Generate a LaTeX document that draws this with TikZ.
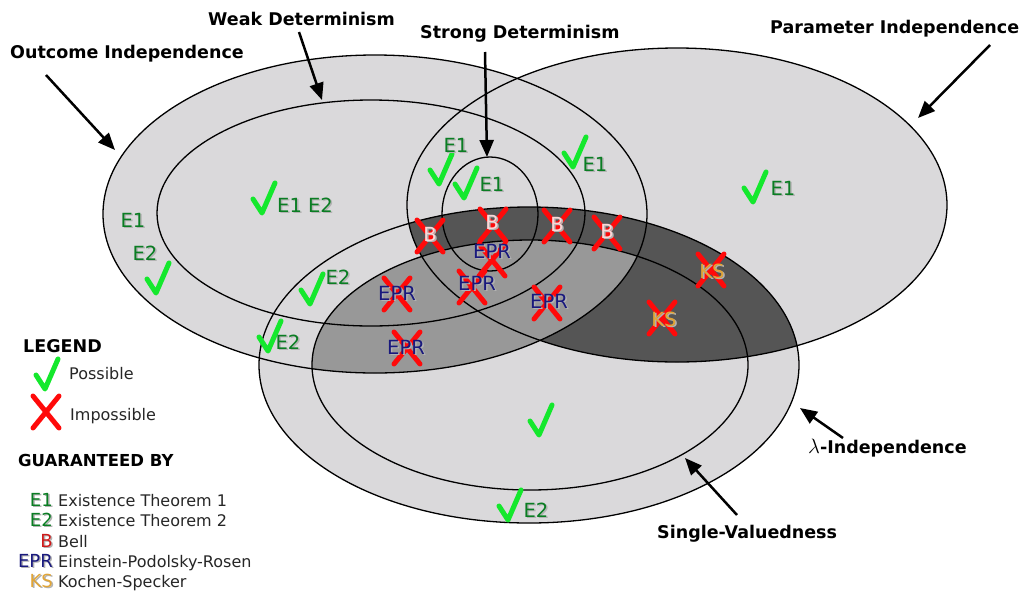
\documentclass[tikz,border=0pt]{standalone}
\usepackage{fontspec}
\setmainfont{DejaVu Sans}
\usetikzlibrary{arrows.meta}

\definecolor{lightfill}{RGB}{218,217,219}
\definecolor{midfill}{RGB}{152,152,152}
\definecolor{darkfill}{RGB}{85,85,85}
\definecolor{okgreen}{RGB}{20,232,45}
\definecolor{egreen}{RGB}{10,125,35}
\definecolor{nored}{RGB}{255,10,10}
\definecolor{bellred}{RGB}{205,25,25}
\definecolor{bellpink}{RGB}{250,215,215}
\definecolor{eprblue}{RGB}{25,25,125}
\definecolor{ksgold}{RGB}{225,165,55}

\newcommand\withshadow[1]{\makebox[0pt][l]{\raisebox{-1.5pt}{\kern1.5pt\textcolor{black!30}{#1}}}#1}

\tikzset{
    pics/okpic/.style={code={\draw[okgreen, line width=5pt, line cap=round, line join=round]
        (-11,1) -- (-2,15) -- (11,-15);}},
    pics/nopic/.style={code={\draw[nored, line width=5pt, line cap=round]
        (-13,-16) -- (13,16) (13,-16) -- (-13,16);}},
}

\begin{document}
\begin{tikzpicture}[x=1pt, y=-1pt,
    boundary/.style={draw, line width=1.3pt},
    pointer/.style={line width=2.5pt, -{Triangle[length=17pt,width=14pt]}},
    caption/.style={font=\bfseries\fontsize{17.5}{20}\selectfont, inner sep=0pt, anchor=base west},
    lbl/.style={font=\fontsize{19.5}{19.5}\selectfont, inner sep=0pt},
    thm/.style={lbl, text=egreen},
    bell/.style={lbl, text=bellpink},
    epr/.style={lbl, text=eprblue},
    ks/.style={lbl, text=ksgold},
    key/.style={font=\fontsize{18}{18}\selectfont, inner sep=0pt, anchor=base east},
    legtext/.style={font=\fontsize{16}{16}\selectfont, inner sep=0pt, anchor=base west, text=black!85}]

    \useasboundingbox (0,0) rectangle (1023,595);

    % regions
    \fill[lightfill] (375,214) ellipse [x radius=272pt, y radius=159pt];
    \fill[lightfill] (677,205) ellipse [x radius=270pt, y radius=157pt];
    \fill[lightfill] (529,365) ellipse [x radius=270pt, y radius=158pt];
    \begin{scope}
        \clip (677,205) ellipse [x radius=270pt, y radius=157pt];
        \fill[darkfill] (529,365) ellipse [x radius=270pt, y radius=158pt];
    \end{scope}
    \begin{scope}
        \clip (375,214) ellipse [x radius=272pt, y radius=159pt];
        \fill[midfill] (530,365) ellipse [x radius=218pt, y radius=125pt];
    \end{scope}

    \draw[boundary] (375,214) ellipse [x radius=272pt, y radius=159pt];
    \draw[boundary] (371,213) ellipse [x radius=214pt, y radius=113pt];
    \draw[boundary] (490,214) ellipse [x radius=48pt, y radius=57pt];
    \draw[boundary] (677,205) ellipse [x radius=270pt, y radius=157pt];
    \draw[boundary] (529,365) ellipse [x radius=270pt, y radius=158pt];
    \draw[boundary] (530,365) ellipse [x radius=218pt, y radius=125pt];

    % impossible
    \pic at (430,236) {nopic};
    \pic at (493,225) {nopic};
    \pic at (557,226) {nopic};
    \pic at (607,233) {nopic};
    \pic at (492,260) {nopic};
    \pic at (472,287) {nopic};
    \pic at (397,294) {nopic};
    \pic at (407,348) {nopic};
    \pic at (547,303) {nopic};
    \pic at (711,270) {nopic};
    \pic at (662,318) {nopic};
    \node[bell] (b1) at (430,235) {\withshadow{B}};
    \node[bell] (b2) at (492,223) {\withshadow{B}};
    \node[bell] (b3) at (557,225) {\withshadow{B}};
    \node[bell] (b4) at (607,232) {\withshadow{B}};
    \node[epr] (epr1) at (492,252) {\withshadow{EPR}};
    \node[epr] (epr2) at (477,284) {\withshadow{EPR}};
    \node[epr] (epr3) at (397,294) {\withshadow{EPR}};
    \node[epr] (epr4) at (406,348) {\withshadow{EPR}};
    \node[epr] (epr5) at (549,302) {\withshadow{EPR}};
    \node[ks] (ks1) at (712,272) {\withshadow{KS}};
    \node[ks] (ks2) at (664,320) {\withshadow{KS}};

    % possible
    \pic at (158,278) {okpic};
    \pic at (264,198) {okpic};
    \pic at (312,289) {okpic};
    \pic at (270,336) {okpic};
    \pic at (441,169) {okpic};
    \pic at (466,183) {okpic};
    \pic at (575,152) {okpic};
    \pic at (755,187) {okpic};
    \pic at (541,420) {okpic};
    \pic at (510,505) {okpic};
    \node[thm] (oie1) at (133,221) {\withshadow{E1}};
    \node[thm] (oie2) at (145,254) {\withshadow{E2}};
    \node[thm] (wde12) at (305,206) {\withshadow{E1 E2}};
    \node[thm] (lie2a) at (338,278) {\withshadow{E2}};
    \node[thm] (lie2b) at (288,343) {\withshadow{E2}};
    \node[thm] (pie1a) at (456,146) {\withshadow{E1}};
    \node[thm] (sde1) at (492,185) {\withshadow{E1}};
    \node[thm] (pie1b) at (595,165) {\withshadow{E1}};
    \node[thm] (pie1c) at (783,189) {\withshadow{E1}};
    \node[thm] (lie2c) at (536,511) {\withshadow{E2}};

    % captions
    \node[caption] (oi) at (10,58) {Outcome Independence};
    \node[caption] (wd) at (208,25) {Weak Determinism};
    \node[caption] (sd) at (420,38) {Strong Determinism};
    \node[caption] (pi) at (770,33) {Parameter Independence};
    \node[caption] (li) at (808,453) {{\fontsize{20}{20}\selectfont$\lambda$}-Independence};
    \node[caption] (sv) at (657,538) {Single-Valuedness};

    \coordinate (oitail) at (46,75);   \coordinate (oitip) at (115,150);
    \coordinate (wdtail) at (299,32);  \coordinate (wdtip) at (322,100);
    \coordinate (sdtail) at (485,52);  \coordinate (sdtip) at (487,157);
    \coordinate (pitail) at (990,45);  \coordinate (pitip) at (918,118);
    \coordinate (litail) at (843,438); \coordinate (litip) at (800,408);
    \coordinate (svtail) at (737,515); \coordinate (svtip) at (685,458);
    \draw[pointer] (oitail) -- (oitip);
    \draw[pointer] (wdtail) -- (wdtip);
    \draw[pointer] (sdtail) -- (sdtip);
    \draw[pointer] (pitail) -- (pitip);
    \draw[pointer] (litail) -- (litip);
    \draw[pointer] (svtail) -- (svtip);

    % legend
    \node[caption] (legend) at (23,352) {LEGEND};
    \pic at (47,374) {okpic};
    \node[legtext] (possible) at (69,379) {Possible};
    \pic at (46,412) {nopic};
    \node[legtext] (impossible) at (70,420) {Impossible};
    \node[caption, font=\bfseries\fontsize{16.5}{20}\selectfont] (guar) at (18,466) {GUARANTEED BY};
    \node[key, text=egreen] (ke1) at (53,506) {\withshadow{E1}};
    \node[legtext] (te1) at (58,506) {Existence Theorem 1};
    \node[key, text=egreen] (ke2) at (53,526) {\withshadow{E2}};
    \node[legtext] (te2) at (58,526) {Existence Theorem 2};
    \node[key, text=bellred] (kb) at (53,547) {\withshadow{B}};
    \node[legtext] (tb) at (58,547) {Bell};
    \node[key, text=eprblue] (kepr) at (53,567) {\withshadow{EPR}};
    \node[legtext] (tepr) at (58,567) {Einstein-Podolsky-Rosen};
    \node[key, text=ksgold] (kks) at (53,587) {\withshadow{KS}};
    \node[legtext] (tks) at (58,587) {Kochen-Specker};

\end{tikzpicture}
\end{document}
